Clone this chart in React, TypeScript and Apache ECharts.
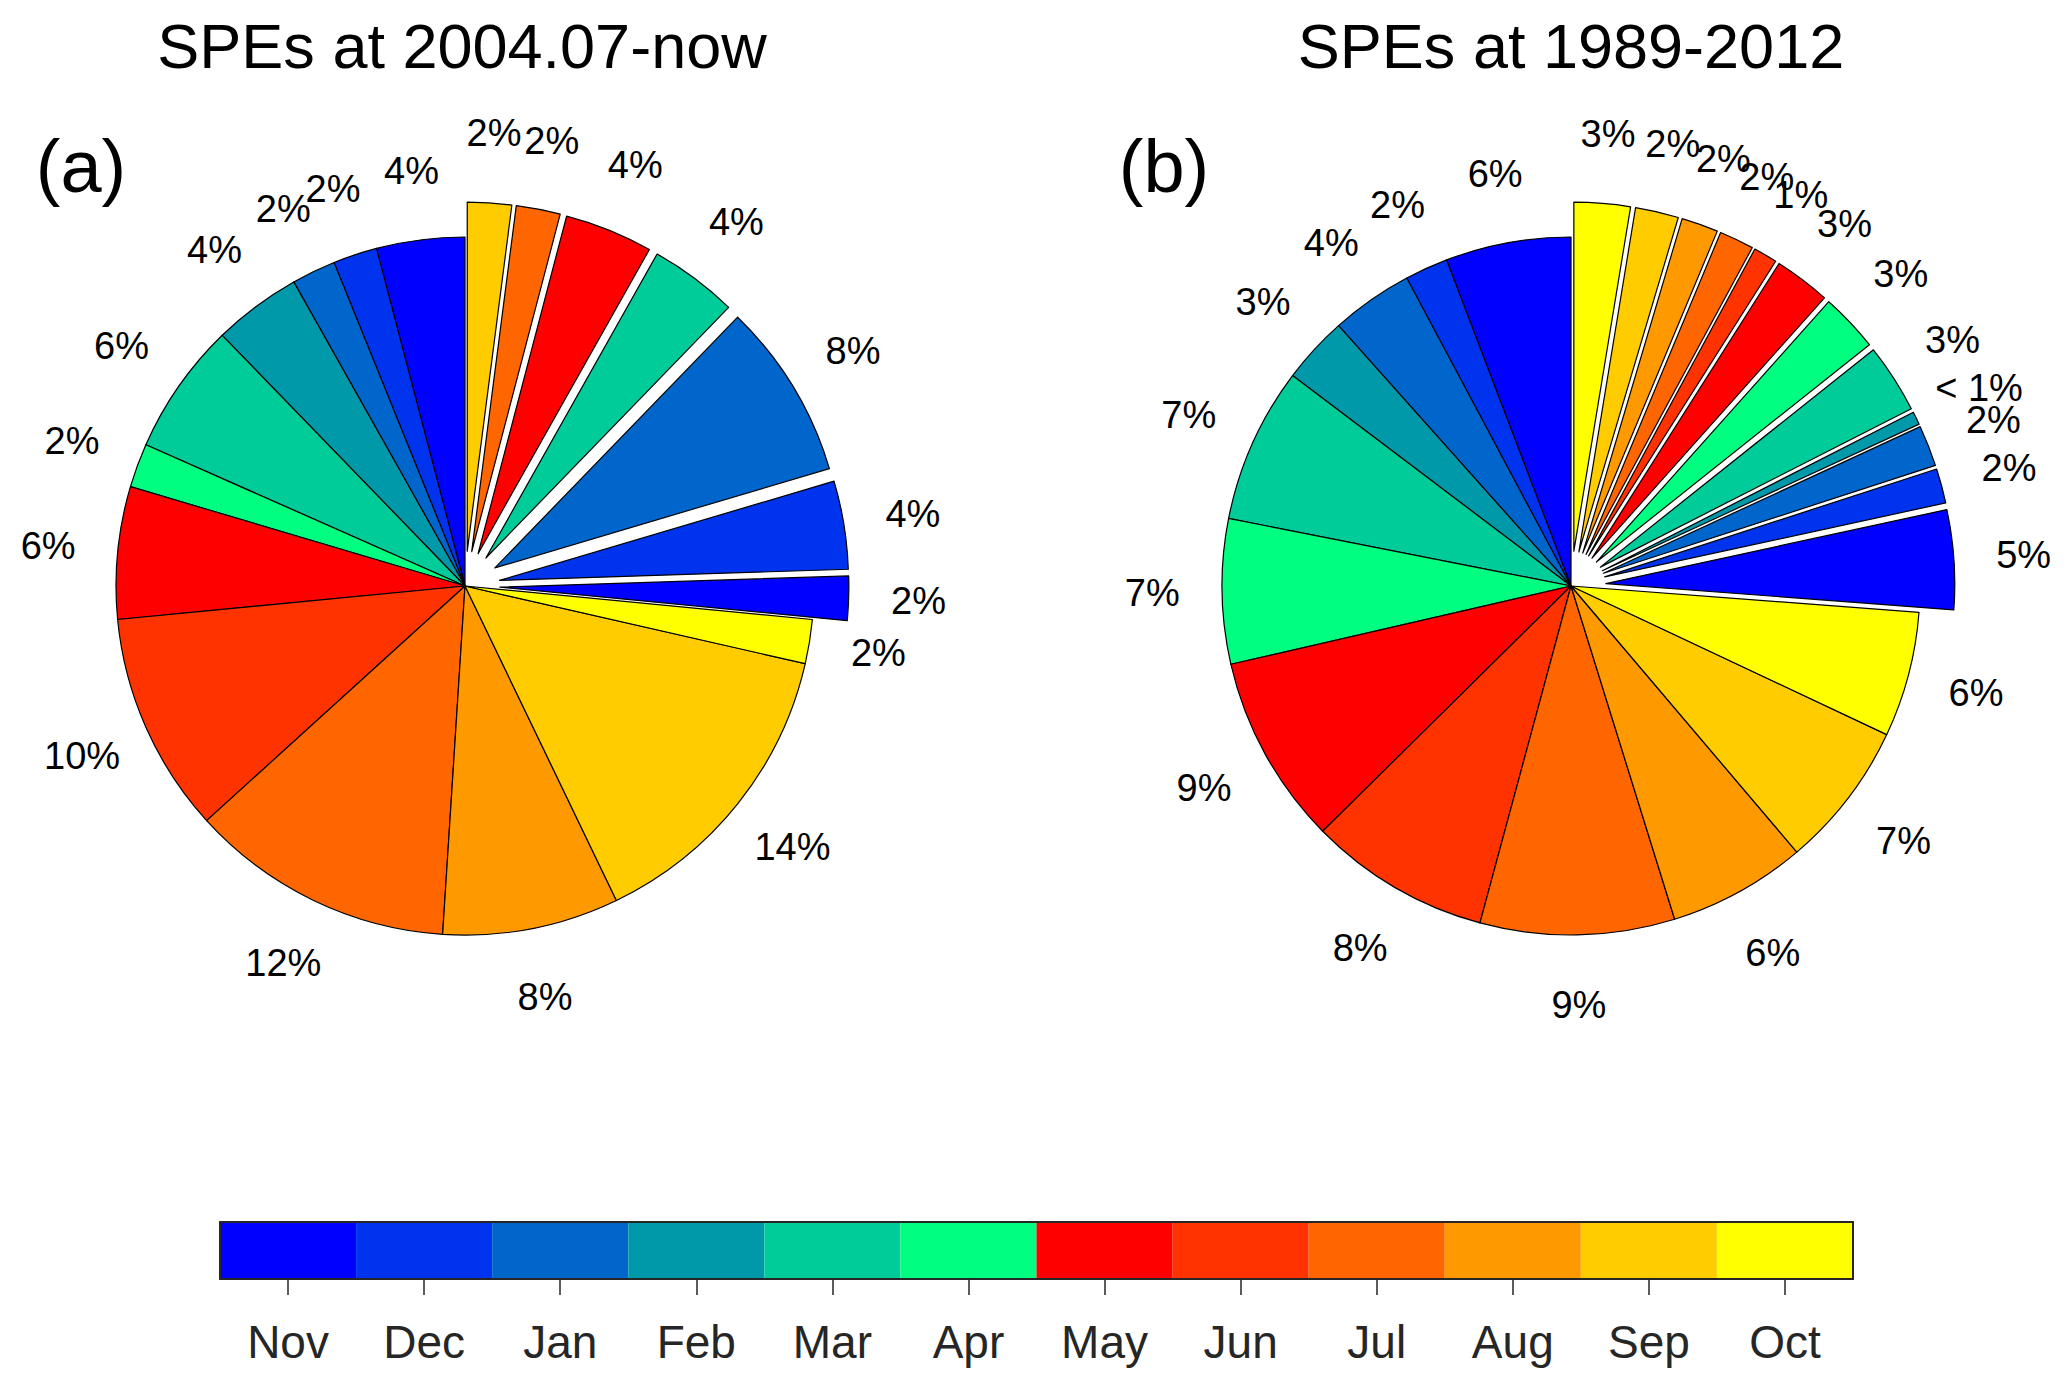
import React, { useEffect, useRef } from "react";
import * as echarts from "echarts";

// Months in colour-bar order
const MONTHS = ["Nov", "Dec", "Jan", "Feb", "Mar", "Apr", "May", "Jun", "Jul", "Aug", "Sep", "Oct"];
const MONTH_COLORS = [
  "#0000FF", "#0033EE", "#0066CC", "#0099AA", "#00CC99", "#00FF80",
  "#FF0000", "#FF3300", "#FF6600", "#FF9900", "#FFCC00", "#FFFF00",
];

// Panel (a): SPEs 2004.07-now, event counts per month (Nov..Oct)
const A_MAIN = [2, 1, 1, 2, 3, 1, 3, 5, 6, 4, 7, 1];
const A_EXPLODED = [1, 2, 4, 0, 2, 0, 2, 0, 1, 0, 1, 0];

// Panel (b): SPEs 1989-2012, share (%) per month (Nov..Oct)
const B_MAIN = [5.8, 2.0, 3.8, 3.1, 7.2, 6.7, 8.8, 8.4, 9.0, 6.4, 6.8, 5.8];
const B_EXPLODED = [4.6, 1.6, 1.9, 0.6, 3.2, 2.7, 2.6, 1.1, 1.6, 1.7, 2.0, 2.6];

// Colour bar cells
const COLORBAR_VALUES = [1, 1, 1, 1, 1, 1, 1, 1, 1, 1, 1, 1];

const TITLES = ["SPEs at 2004.07-now", "SPEs at 1989-2012"];
const PANEL_TAGS = ["(a)", "(b)"];

const FONT = "'Liberation Sans', Arial, Helvetica, sans-serif";
const AXIS_COLOR = "#262626";
const R = 349;

function buildPieData(main: number[], exploded: number[]) {
  const items: any[] = [];
  main.forEach((v, i) => {
    if (v > 0) items.push({ name: MONTHS[i], value: v, itemStyle: { color: MONTH_COLORS[i] } });
  });
  exploded.forEach((v, i) => {
    if (v > 0)
      items.push({
        name: MONTHS[i] + " (exploded)",
        value: v,
        selected: true,
        itemStyle: { color: MONTH_COLORS[i] },
      });
  });
  return items;
}

function makeFormatter(main: number[], exploded: number[]) {
  const total = [...main, ...exploded].reduce((s, v) => s + v, 0);
  return (p: any) => {
    const pct = (p.value / total) * 100;
    return pct < 1 ? "< 1%" : Math.round(pct) + "%";
  };
}

function pieSeries(center: number[], main: number[], exploded: number[]) {
  return {
    type: "pie",
    center,
    radius: R,
    startAngle: 90,
    clockwise: false,
    selectedMode: "multiple",
    selectedOffset: 0.1 * R,
    avoidLabelOverlap: false,
    minAngle: 0,
    minShowLabelAngle: 0,
    itemStyle: { borderColor: "#000", borderWidth: 1.2 },
    select: { itemStyle: { borderColor: "#000", borderWidth: 1.2 } },
    emphasis: { disabled: true },
    label: {
      show: true,
      position: "outside",
      alignTo: "none",
      distanceToLabelLine: 0,
      formatter: makeFormatter(main, exploded),
      color: "#000",
      fontFamily: FONT,
      fontSize: 38,
    },
    labelLine: { show: false, length: 0.2 * R, length2: 0 },
    labelLayout: () => ({ align: "center", verticalAlign: "middle" }),
    data: buildPieData(main, exploded),
  };
}

export default function App() {
  const ref = useRef<HTMLDivElement>(null);
  useEffect(() => {
    if (!ref.current) return;
    const chart = echarts.init(ref.current, undefined, { renderer: "svg" });
    const lineStyle = { color: AXIS_COLOR, width: 2 };
    const option: any = {
      animation: false,
      backgroundColor: "#fff",
      graphic: [
        { type: "text", x: 462, y: 46, style: { text: TITLES[0], font: `63px ${FONT}`, fill: "#000", align: "center", verticalAlign: "middle" } },
        { type: "text", x: 1571, y: 46, style: { text: TITLES[1], font: `63px ${FONT}`, fill: "#000", align: "center", verticalAlign: "middle" } },
        { type: "text", x: 81, y: 166, style: { text: PANEL_TAGS[0], font: `74px ${FONT}`, fill: "#000", align: "center", verticalAlign: "middle" } },
        { type: "text", x: 1164, y: 166, style: { text: PANEL_TAGS[1], font: `74px ${FONT}`, fill: "#000", align: "center", verticalAlign: "middle" } },
      ],
      grid: [{ left: 220, top: 1222, width: 1633, height: 57, show: false }],
      xAxis: [
        {
          type: "category",
          data: MONTHS,
          position: "bottom",
          boundaryGap: true,
          z: 10,
          axisLine: { show: true, onZero: false, lineStyle },
          axisTick: { show: true, alignWithLabel: true, interval: 0, length: 16, lineStyle: { color: AXIS_COLOR, width: 1.5 } },
          axisLabel: { show: true, interval: 0, color: AXIS_COLOR, fontSize: 46, fontFamily: FONT, margin: 40 },
        },
        {
          type: "category",
          data: MONTHS,
          position: "top",
          z: 10,
          axisLine: { show: true, onZero: false, lineStyle },
          axisTick: { show: false },
          axisLabel: { show: false },
        },
      ],
      yAxis: [
        { type: "value", min: 0, max: 1, position: "left", z: 10, axisLine: { show: true, lineStyle }, axisTick: { show: false }, axisLabel: { show: false }, splitLine: { show: false } },
        { type: "value", min: 0, max: 1, position: "right", z: 10, axisLine: { show: true, lineStyle }, axisTick: { show: false }, axisLabel: { show: false }, splitLine: { show: false } },
      ],
      series: [
        pieSeries([465, 586], A_MAIN, A_EXPLODED),
        pieSeries([1571, 586], B_MAIN, B_EXPLODED),
        {
          type: "bar",
          xAxisIndex: 0,
          yAxisIndex: 0,
          silent: true,
          barCategoryGap: "0%",
          data: COLORBAR_VALUES.map((v, i) => ({ value: v, itemStyle: { color: MONTH_COLORS[i] } })),
        },
      ],
    };
    chart.setOption(option);
    return () => chart.dispose();
  }, []);
  return (
    <div
      ref={ref}
      style={{ position: "fixed", left: 0, top: 0, width: "2067px", height: "1385px", background: "#fff" }}
    />
  );
}
